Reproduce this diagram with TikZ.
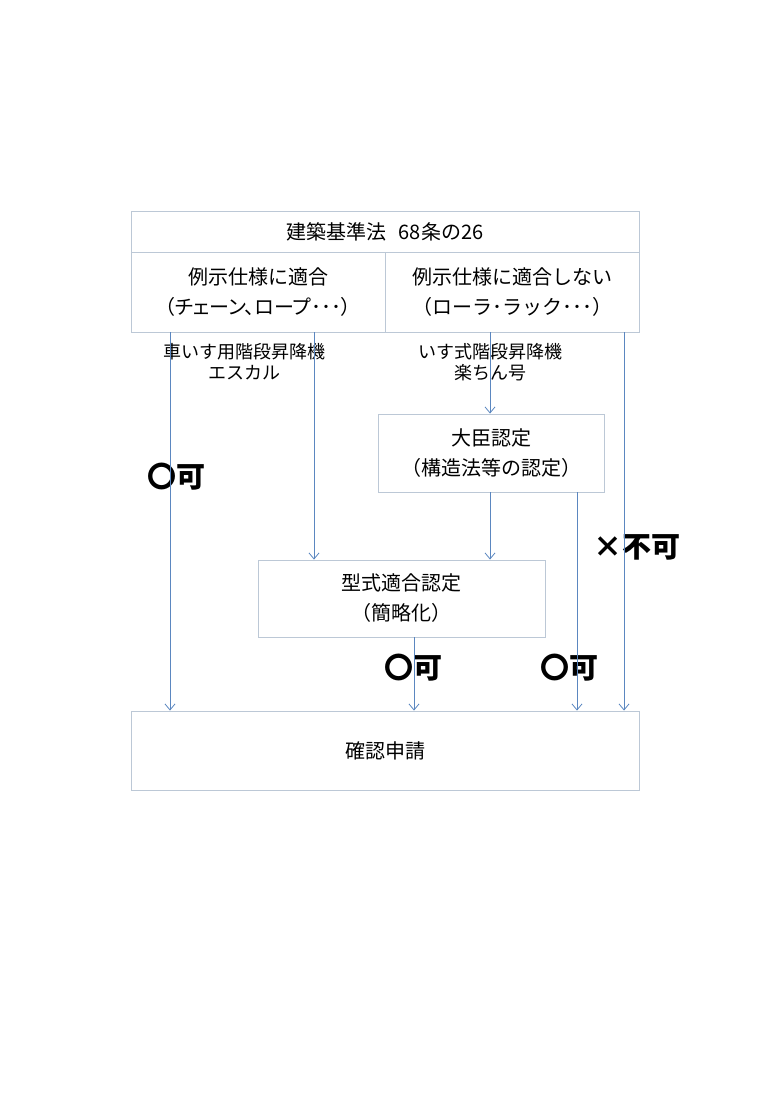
\documentclass[tikz,border=0pt]{standalone}
\usepackage{fontspec}
\setmainfont{Noto Sans CJK JP}
\newfontfamily\pfont[RawFeature=+palt]{Noto Sans CJK JP}
\usetikzlibrary{arrows.meta}
\definecolor{boxline}{HTML}{BCC8D6}
\definecolor{arrline}{HTML}{5B87C0}
\begin{document}
\begin{tikzpicture}[x=1pt,y=-1pt,
  box/.style={draw=boxline,line width=0.9pt,rectangle,inner sep=0pt,align=center,font=\fontsize{20}{30}\selectfont},
  arr/.style={draw=arrline,line width=0.9pt,-{Straight Barb[length=6pt,width=10pt,line width=0.8pt]}},
  lab/.style={align=center,font=\fontsize{18}{21}\selectfont},
  ok/.style={font=\fontsize{29}{32}\bfseries\selectfont}]
\useasboundingbox (0,0) rectangle (777,1100);
% boxes
\node[box,minimum width=508pt,minimum height=41pt] (title) at (385,231.5) {建築基準法\hspace{0.6em}68条の26};
\node[box,minimum width=254pt,minimum height=80pt] (cl) at (258,292) {例示仕様に適合\\{\pfont（チェーン、ロープ･･･）}};
\node[box,minimum width=254pt,minimum height=80pt] (cr) at (512,292) {例示仕様に適合しない\\（ローラ･ラック･･･）};
\node[box,minimum width=226pt,minimum height=78pt] (daijin) at (491,453) {大臣認定\\（構造法等の認定）};
\node[box,minimum width=287pt,minimum height=77pt] (kata) at (401.5,598.5) {型式適合認定\\（簡略化）};
\node[box,minimum width=508pt,minimum height=79pt] (kakunin) at (385,750.5) {確認申請};
% labels
\node[lab] (l1) at (244,362) {車いす用階段昇降機\\エスカル};
\node[lab] (l2) at (490,362) {いす式階段昇降機\\楽ちん号};
\node[ok] (ok1) at (176,477) {〇可};
\node[ok] (ng) at (637,547) {×不可};
\node[ok] (ok2) at (413,668) {〇可};
\node[ok] (ok3) at (569,668) {〇可};
% arrows
\draw[arr] (cl.south -| 170,0) -- (kakunin.north -| 170,0);
\draw[arr] (cl.south -| 314,0) -- (kata.north -| 314,0);
\draw[arr] (cr.south -| 490,0) -- (daijin.north -| 490,0);
\draw[arr] (cr.south -| 624,0) -- (kakunin.north -| 624,0);
\draw[arr] (daijin.south -| 490,0) -- (kata.north -| 490,0);
\draw[arr] (daijin.south -| 577,0) -- (kakunin.north -| 577,0);
\draw[arr] (kata.south -| 414,0) -- (kakunin.north -| 414,0);
\end{tikzpicture}
\end{document}
